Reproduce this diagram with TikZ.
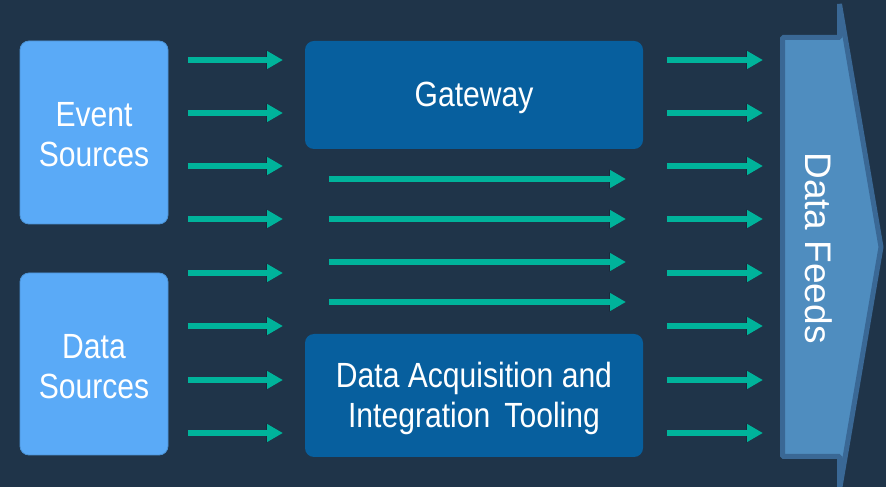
\documentclass[tikz,border=0pt]{standalone}
\usepackage{fontspec}
\setmainfont{Liberation Sans}
\newfontfamily\narrowfont{Liberation Sans}[FakeStretch=0.86]
\usetikzlibrary{arrows.meta}

\definecolor{bgnavy}{HTML}{1F3449}
\definecolor{srcblue}{HTML}{5AAAF7}
\definecolor{srcedge}{HTML}{4C93D6}
\definecolor{procblue}{HTML}{075F9E}
\definecolor{flowteal}{HTML}{00B39B}
\definecolor{feedfill}{HTML}{4F8DBF}
\definecolor{feededge}{HTML}{3A6895}

\tikzset{
  boxtext/.style={text=white, font=\narrowfont\fontsize{35}{40}\selectfont,
    align=center, inner sep=0pt},
  srcbox/.style={fill=srcblue, draw=srcedge, line width=0.8pt,
    rounded corners=9pt, inner sep=0pt},
  procbox/.style={fill=procblue, rounded corners=9pt, inner sep=0pt},
  caption/.style={label={[boxtext, yshift=-2.5pt]center:#1}},
  flow/.style={draw=flowteal, line width=5.4pt,
    -{Triangle[length=16pt,width=17pt]}},
  flowshadow/.style={draw=black, opacity=0.2, line width=6pt,
    -{Triangle[length=17pt,width=18pt]}, shift={(1.5pt,-3pt)}},
}

\begin{document}
\begin{tikzpicture}[x=1pt,y=1pt]
  % canvas
  \fill[bgnavy] (0,0) rectangle (886,487);
  \useasboundingbox (0,0) rectangle (886,487);

  % source boxes
  \node[srcbox, minimum width=148pt, minimum height=183pt,
    caption={Event\\Sources}] (es) at (94,354.5) {};
  \node[srcbox, minimum width=148pt, minimum height=182pt,
    caption={Data\\Sources}] (ds) at (94,123) {};

  % processing boxes
  \node[procbox, minimum width=338pt, minimum height=108pt,
    caption={Gateway}] (gw) at (474,392) {};
  \node[procbox, minimum width=338pt, minimum height=123pt,
    caption={Data Acquisition and\\Integration\, Tooling}] (daq) at (474,91.5) {};

  % data feeds arrow
  \draw[fill=feedfill, draw=feededge, line width=5pt, line join=bevel]
    (782.5,449.5) -- (839.5,449.5) -- (839.5,483) -- (881,240)
    -- (839.5,-3) -- (839.5,30.5) -- (782.5,30.5) -- cycle;
  \node[text=white, font=\fontsize{37}{40}\selectfont, rotate=-90,
    inner sep=0pt] (feeds) at (819,239) {Data Feeds};

  % flow arrows: sources -> middle, middle -> feeds
  \foreach \y [count=\i] in {427,374,321,268,214,161,107,54} {
    \coordinate (ls\i) at (188,\y);
    \coordinate (le\i) at (283,\y);
    \coordinate (rs\i) at (667,\y);
    \coordinate (re\i) at (763,\y);
    \draw[flowshadow] (ls\i) -- (le\i);
    \draw[flowshadow] (rs\i) -- (re\i);
    \draw[flow] (ls\i) -- (le\i);
    \draw[flow] (rs\i) -- (re\i);
  }
  % pass-through arrows between gateway and acquisition
  \foreach \y [count=\i] in {308,268,225,185} {
    \coordinate (ms\i) at (329,\y);
    \coordinate (me\i) at (626,\y);
    \draw[flowshadow] (ms\i) -- (me\i);
    \draw[flow] (ms\i) -- (me\i);
  }
\end{tikzpicture}
\end{document}
